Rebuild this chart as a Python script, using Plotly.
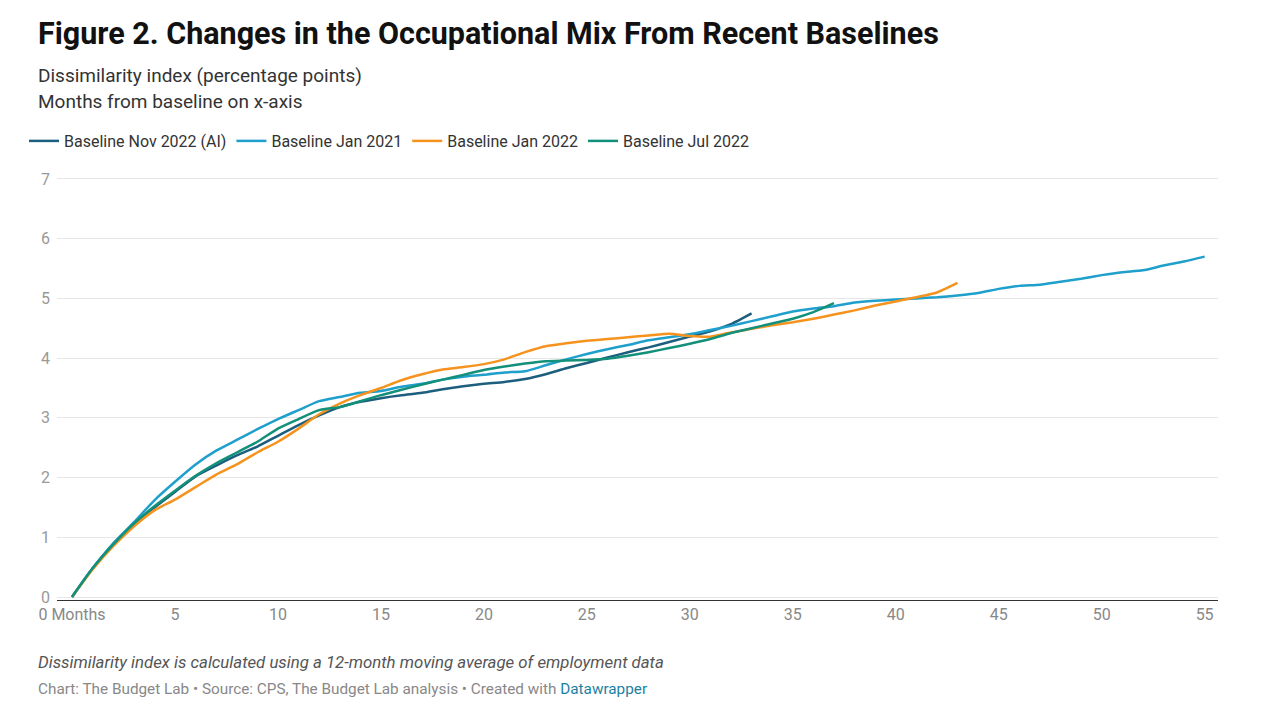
import plotly.graph_objects as go

# ---- data ----
months_nov2022 = list(range(0, 34))
nov2022 = [0, 0.48, 0.88, 1.22, 1.50, 1.76, 2.02, 2.20, 2.37, 2.52, 2.70, 2.88, 3.04, 3.18,
           3.27, 3.33, 3.38, 3.42, 3.48, 3.53, 3.57, 3.60, 3.65, 3.73, 3.83, 3.92, 4.01,
           4.10, 4.18, 4.27, 4.36, 4.45, 4.57, 4.75]

months_jan2021 = list(range(0, 56))
jan2021 = [0, 0.48, 0.90, 1.25, 1.62, 1.93, 2.22, 2.45, 2.63, 2.81, 2.98, 3.13, 3.28, 3.35,
           3.42, 3.45, 3.52, 3.57, 3.64, 3.69, 3.72, 3.76, 3.78, 3.88, 3.98, 4.07, 4.15,
           4.22, 4.30, 4.35, 4.40, 4.47, 4.54, 4.62, 4.70, 4.78, 4.83, 4.87, 4.93, 4.96,
           4.98, 5.00, 5.02, 5.05, 5.09, 5.16, 5.21, 5.23, 5.28, 5.33, 5.39, 5.44, 5.47,
           5.55, 5.62, 5.70]

months_jan2022 = list(range(0, 44))
jan2022 = [0, 0.46, 0.85, 1.18, 1.45, 1.63, 1.84, 2.05, 2.22, 2.42, 2.60, 2.82, 3.06, 3.24,
           3.38, 3.50, 3.63, 3.73, 3.81, 3.85, 3.90, 3.98, 4.10, 4.20, 4.25, 4.29, 4.32,
           4.35, 4.38, 4.41, 4.37, 4.36, 4.43, 4.49, 4.55, 4.60, 4.66, 4.73, 4.80, 4.88,
           4.95, 5.02, 5.10, 5.26]

months_jul2022 = list(range(0, 38))
jul2022 = [0, 0.48, 0.88, 1.23, 1.52, 1.78, 2.03, 2.24, 2.42, 2.60, 2.82, 2.98, 3.13, 3.18,
           3.28, 3.38, 3.47, 3.56, 3.64, 3.72, 3.80, 3.86, 3.91, 3.95, 3.96, 3.97, 3.99,
           4.04, 4.10, 4.17, 4.24, 4.32, 4.42, 4.50, 4.58, 4.66, 4.77, 4.92]

series_names = ["Baseline Nov 2022 (AI)", "Baseline Jan 2021", "Baseline Jan 2022", "Baseline Jul 2022"]
series_colors = ["#1b5e7e", "#1f9fcc", "#f5931e", "#12907a"]

x_tickvals = [0, 5, 10, 15, 20, 25, 30, 35, 40, 45, 50, 55]
x_ticktext = ["0 Months", "5", "10", "15", "20", "25", "30", "35", "40", "45", "50", "55"]
y_tickvals = [0, 1, 2, 3, 4, 5, 6, 7]

FONT = "Roboto"
L, R, T, B = 57, 62, 176, 121

fig = go.Figure()
for xs, ys, name, color in zip(
        [months_nov2022, months_jan2021, months_jan2022, months_jul2022],
        [nov2022, jan2021, jan2022, jul2022], series_names, series_colors):
    fig.add_trace(go.Scatter(
        x=xs, y=ys, name=name, mode="lines",
        line=dict(color=color, width=2.5, shape="spline", smoothing=0.6),
        hoverinfo="x+y+name",
    ))

fig.update_layout(
    width=1280, height=721,
    paper_bgcolor="white", plot_bgcolor="white",
    margin=dict(l=L, r=R, t=T, b=B),
    font=dict(family=FONT, color="#333333"),
    showlegend=True,
    legend=dict(
        orientation="h", xref="container", yref="container",
        x=24 / 1280, y=1 - 124 / 721, xanchor="left", yanchor="top",
        font=dict(family=FONT, size=16, color="#333333"),
        itemwidth=30, tracegroupgap=0, bgcolor="rgba(0,0,0,0)",
    ),
    xaxis=dict(
        range=[-0.73, 55.65], tickmode="array", tickvals=x_tickvals, ticktext=x_ticktext,
        showgrid=False, zeroline=False, showline=True, linecolor="#333333", linewidth=1.2,
        ticks="", tickfont=dict(family=FONT, size=16, color="#888888"),
        ticklabelstandoff=0,
    ),
    yaxis=dict(
        range=[-0.05, 7.05], tickmode="array", tickvals=y_tickvals,
        showgrid=True, gridcolor="#e6e6e6", gridwidth=1, zeroline=False, showline=False,
        ticks="", tickfont=dict(family=FONT, size=16, color="#999999"),
        ticklabelstandoff=6,
    ),
)

annotations = [
    dict(text="<b>Figure 2. Changes in the Occupational Mix From Recent Baselines</b>",
         x=36, y=34, font=dict(family=FONT, size=30.5, color="#111111")),
    dict(text="Dissimilarity index (percentage points)", x=36, y=76,
         font=dict(family=FONT, size=19, color="#333333")),
    dict(text="Months from baseline on x-axis", x=36, y=101,
         font=dict(family=FONT, size=19, color="#333333")),
    dict(text="<i>Dissimilarity index is calculated using a 12-month moving average of employment data</i>",
         x=36, y=662, font=dict(family=FONT, size=16.8, color="#555555")),
    dict(text="Chart: The Budget Lab • Source: CPS, The Budget Lab analysis • Created with "
              "<span style='color:#1d81a2'>Datawrapper</span>",
         x=36, y=689, font=dict(family=FONT, size=15.3, color="#888888")),
]
for a in annotations:
    fig.add_annotation(
        text=a["text"], xref="paper", yref="paper",
        x=(a["x"] - L) / (1280 - L - R),
        y=1 - (a["y"] - T) / (721 - T - B),
        xanchor="left", yanchor="middle", showarrow=False, align="left",
        font=a["font"],
    )

fig.write_html("out.html", config={"displayModeBar": False},
               post_script="document.body.style.margin='0';")
